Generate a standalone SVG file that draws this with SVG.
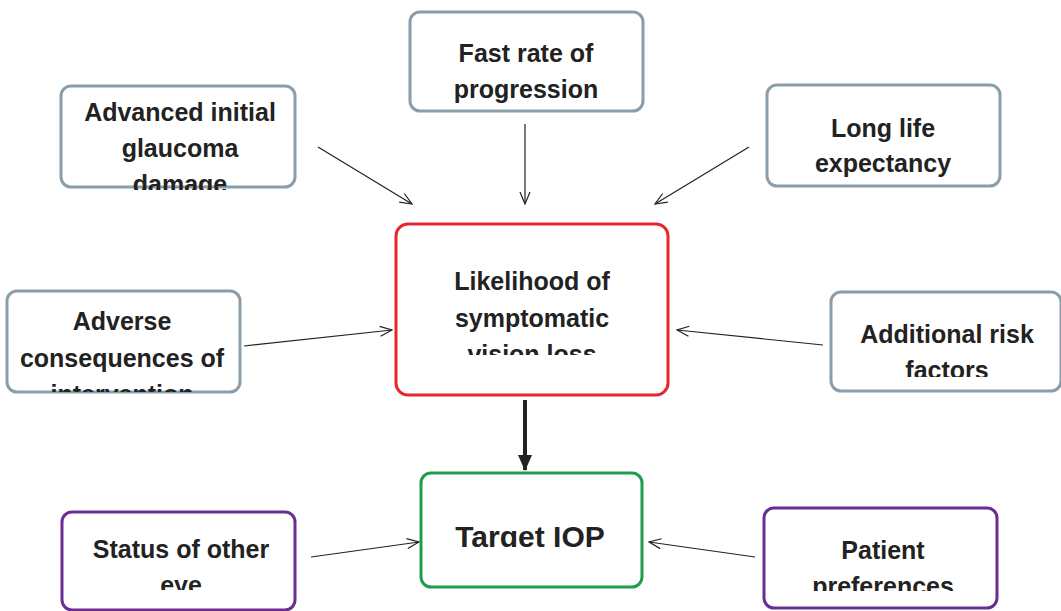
<svg xmlns="http://www.w3.org/2000/svg" width="1061" height="611" viewBox="0 0 1061 611">
<style>
.box{fill:#fff;stroke-width:3;stroke-linejoin:round}
.grey{stroke:#8a9ea9}
.red{stroke:#e8262d}
.green{stroke:#1e9e4c}
.purple{stroke:#6b2d90}
text{font-family:"Liberation Sans",Arial,sans-serif;font-weight:bold;font-size:25px;fill:#222;text-anchor:middle}
.big{font-size:30px}
.conn line{stroke:#222;stroke-width:1.2;fill:none}
.conn line.thick{stroke-width:4}
</style>
<defs>
<marker id="open" viewBox="0 0 14 12" refX="13" refY="6" markerWidth="14" markerHeight="12" markerUnits="userSpaceOnUse" orient="auto">
<path d="M1,1 L13,6 L1,11" fill="none" stroke="#222" stroke-width="1.2"/>
</marker>
<marker id="solid" viewBox="0 0 16 14" refX="15" refY="7" markerWidth="16" markerHeight="14" markerUnits="userSpaceOnUse" orient="auto">
<path d="M0,0 L16,7 L0,14 Z" fill="#222"/>
</marker>
<clipPath id="c1"><rect x="60" y="80" width="240" height="110"/></clipPath>
<clipPath id="c4"><rect x="395" y="220" width="275" height="135"/></clipPath>
<clipPath id="c5"><rect x="5" y="285" width="240" height="107"/></clipPath>
<clipPath id="c6"><rect x="830" y="290" width="231" height="87"/></clipPath>
<clipPath id="c7"><rect x="420" y="470" width="225" height="77"/></clipPath>
<clipPath id="c8"><rect x="60" y="510" width="240" height="80"/></clipPath>
<clipPath id="c9"><rect x="760" y="505" width="240" height="86"/></clipPath>
</defs>

<g id="connectors" class="conn">
<line x1="318" y1="147" x2="412" y2="204" marker-end="url(#open)"/>
<line x1="525" y1="124" x2="525" y2="204" marker-end="url(#open)"/>
<line x1="749" y1="147" x2="655" y2="204" marker-end="url(#open)"/>
<line x1="244" y1="346" x2="392" y2="330" marker-end="url(#open)"/>
<line x1="823" y1="345" x2="677" y2="330" marker-end="url(#open)"/>
<line class="thick" x1="525" y1="400" x2="525" y2="470" marker-end="url(#solid)"/>
<line x1="311" y1="557" x2="419" y2="542" marker-end="url(#open)"/>
<line x1="755" y1="557" x2="649" y2="542" marker-end="url(#open)"/>
</g>

<g id="advanced-initial">
<rect class="box grey" x="61" y="86" width="234" height="101" rx="10"/>
<g clip-path="url(#c1)">
<text x="180" y="121">Advanced initial</text>
<text x="180" y="157">glaucoma</text>
<text x="180" y="193">damage</text>
</g>
</g>

<g id="fast-rate">
<rect class="box grey" x="410" y="12" width="233" height="99" rx="10"/>
<text x="526" y="62">Fast rate of</text>
<text x="526" y="98">progression</text>
</g>

<g id="long-life">
<rect class="box grey" x="767" y="85" width="233" height="101" rx="10"/>
<text x="883" y="137">Long life</text>
<text x="883" y="172">expectancy</text>
</g>

<g id="likelihood">
<rect class="box red" x="396" y="224" width="272" height="171" rx="12"/>
<g clip-path="url(#c4)">
<text x="532" y="290">Likelihood of</text>
<text x="532" y="327">symptomatic</text>
<text x="532" y="363">vision loss</text>
</g>
</g>

<g id="adverse">
<rect class="box grey" x="7" y="291" width="233" height="101" rx="10"/>
<g clip-path="url(#c5)">
<text x="122" y="330">Adverse</text>
<text x="122" y="367">consequences of</text>
<text x="122" y="403">intervention</text>
</g>
</g>

<g id="additional-risk">
<rect class="box grey" x="831" y="292" width="230" height="99" rx="10"/>
<g clip-path="url(#c6)">
<text x="947" y="343">Additional risk</text>
<text x="947" y="379">factors</text>
</g>
</g>

<g id="target-iop">
<rect class="box green" x="421" y="473" width="221" height="114" rx="10"/>
<g clip-path="url(#c7)">
<text class="big" x="530" y="547">Target IOP</text>
</g>
</g>

<g id="status-other-eye">
<rect class="box purple" x="62" y="512" width="233" height="98" rx="10"/>
<g clip-path="url(#c8)">
<text x="181" y="558">Status of other</text>
<text x="181" y="594">eye</text>
</g>
</g>

<g id="patient-preferences">
<rect class="box purple" x="764" y="508" width="233" height="100" rx="10"/>
<g clip-path="url(#c9)">
<text x="883" y="559">Patient</text>
<text x="883" y="595">preferences</text>
</g>
</g>
</svg>
